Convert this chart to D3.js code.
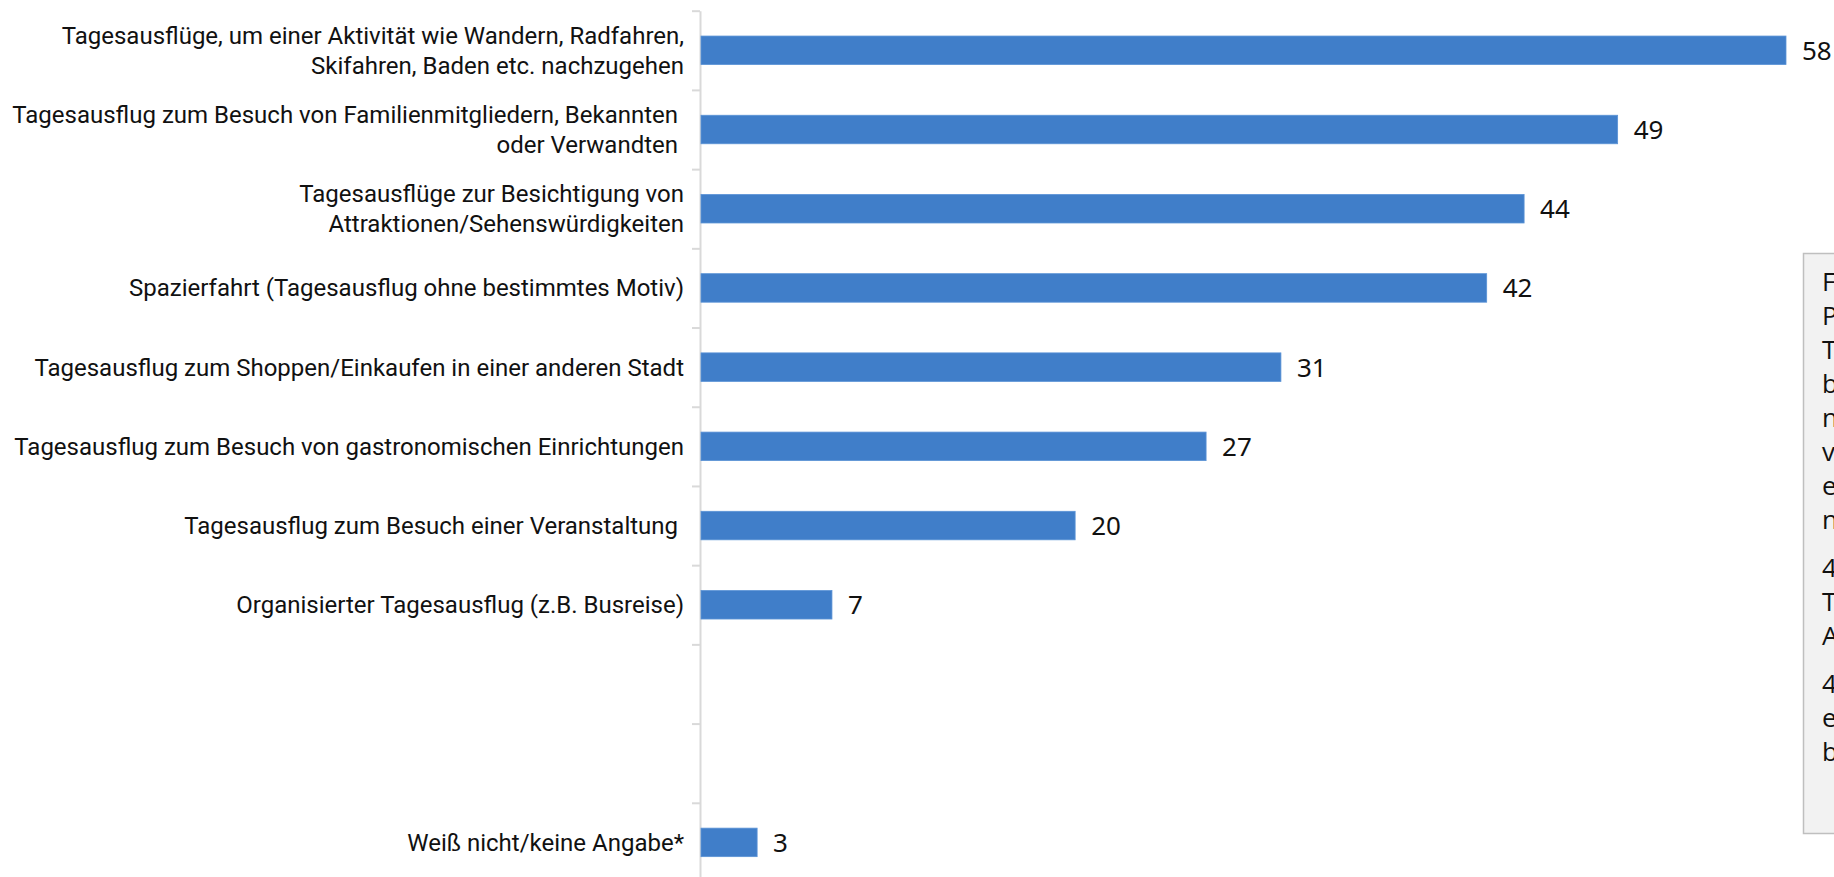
<!DOCTYPE html>
<html>
<head>
<meta charset="utf-8">
<script src="https://cdn.jsdelivr.net/npm/d3@7"></script>
<style>
  html, body { margin: 0; padding: 0; background: #ffffff; overflow: hidden; }
  svg { display: block; }
</style>
</head>
<body>
<svg id="chart" width="1834" height="877"></svg>
<script>
// ---------- data ----------
const categories = [
  "Tagesausflüge, um einer Aktivität wie Wandern, Radfahren,\nSkifahren, Baden etc. nachzugehen",
  "Tagesausflug zum Besuch von Familienmitgliedern, Bekannten \noder Verwandten ",
  "Tagesausflüge zur Besichtigung von\nAttraktionen/Sehenswürdigkeiten",
  "Spazierfahrt (Tagesausflug ohne bestimmtes Motiv)",
  "Tagesausflug zum Shoppen/Einkaufen in einer anderen Stadt",
  "Tagesausflug zum Besuch von gastronomischen Einrichtungen",
  "Tagesausflug zum Besuch einer Veranstaltung ",
  "Organisierter Tagesausflug (z.B. Busreise)",
  "",
  "",
  "Weiß nicht/keine Angabe*"
];
const values = [58, 49, 44, 42, 31, 27, 20, 7, null, null, 3];

const noteParagraphs = [
  ["Frage: Welche Arten von", "Privatreisen bzw.", "Tagesausflügen haben Sie", "bereits unternommen oder", "nehmen Sie sich in den", "vor Ihnen liegenden", "eineinhalb Jahren", "noch vor?"],
  ["4.004 Befragte;", "Tagesausflüge;", "Angaben in Prozent"],
  ["4 = Mehrfachnennungen", "erlaubt; * Einfach-", "beantwortung"]
];

// ---------- layout ----------
const W = 1834, H = 877;
const axisX = 700;
const svg = d3.select("#chart");

const idx = d3.range(categories.length);
const y = d3.scaleBand()
  .domain(idx)
  .range([10.7, 882])
  .paddingInner(0.64)
  .paddingOuter(0.32);

const yEdge = d3.scaleLinear()
  .domain([0, categories.length])
  .range([10.7, 882]);

const x = d3.scaleLinear()
  .domain([0, d3.max(values)])
  .range([axisX + 1, 1786]);

// ---------- axis with boundary ticks ----------
const axisG = svg.append("g")
  .attr("transform", `translate(${axisX},0)`)
  .call(d3.axisLeft(yEdge)
    .tickValues(d3.range(categories.length + 1))
    .tickSize(8)
    .tickSizeOuter(0)
    .tickFormat(""));
axisG.select(".domain").attr("stroke", "#d9d9d9").attr("stroke-width", 2);
axisG.selectAll(".tick line").attr("stroke", "#d9d9d9").attr("stroke-width", 2);

// ---------- bars ----------
const data = idx.filter(i => values[i] != null).map(i => ({ i, v: values[i] }));

svg.append("g").selectAll("rect")
  .data(data)
  .join("rect")
  .attr("x", x(0))
  .attr("y", d => y(d.i))
  .attr("width", d => x(d.v) - x(0))
  .attr("height", y.bandwidth())
  .attr("fill", "#407ec9")
  .attr("stroke", "#5b93d6")
  .attr("stroke-width", 0.8);

// ---------- value labels ----------
svg.append("g").selectAll("text")
  .data(data)
  .join("text")
  .attr("x", d => x(d.v) + 16)
  .attr("y", d => y(d.i) + y.bandwidth() / 2)
  .attr("dy", "0.36em")
  .attr("font-family", "'Noto Sans', 'Open Sans', sans-serif")
  .attr("font-size", 26)
  .attr("fill", "#111")
  .text(d => d.v);

// ---------- category labels ----------
const lineH = 30;
const labG = svg.append("g");
idx.forEach(i => {
  const lines = categories[i].split("\n");
  if (!categories[i]) return;
  const cy = y(i) + y.bandwidth() / 2;
  const t = labG.append("text")
    .attr("x", axisX - 16)
    .attr("y", cy)
    .attr("text-anchor", "end")
    .attr("font-family", "Roboto, 'Noto Sans', sans-serif")
    .attr("font-size", 24)
    .attr("fill", "#111")
    .style("white-space", "pre");
  lines.forEach((ln, k) => {
    t.append("tspan")
      .attr("x", axisX - 16)
      .attr("y", cy + (k - (lines.length - 1) / 2) * lineH)
      .attr("dy", "0.35em")
      .text(ln);
  });
});

// ---------- note box (cut by the page edge, as in the reference) ----------
const boxG = svg.append("g");
boxG.append("rect")
  .attr("x", 1803.5)
  .attr("y", 253.5)
  .attr("width", 200)
  .attr("height", 580)
  .attr("fill", "#f2f2f2")
  .attr("stroke", "#bfbfbf")
  .attr("stroke-width", 1.5);

let ty = 291;
const noteStep = 34, paraGap = 14;
const noteT = boxG.append("text")
  .attr("font-family", "'Open Sans', 'Noto Sans', sans-serif")
  .attr("font-size", 26)
  .attr("fill", "#111");
noteParagraphs.forEach((p, pi) => {
  if (pi > 0) ty += paraGap;
  p.forEach(ln => {
    noteT.append("tspan").attr("x", 1822).attr("y", ty).text(ln);
    ty += noteStep;
  });
});
</script>
</body>
</html>
